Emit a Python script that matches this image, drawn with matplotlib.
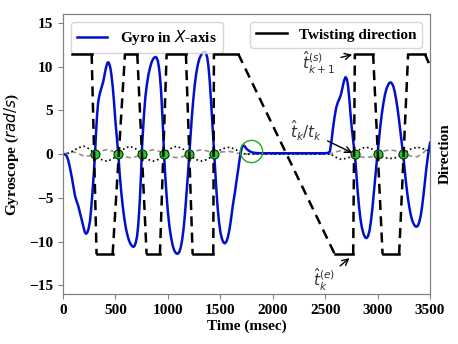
import numpy as np
import matplotlib

matplotlib.use("Agg")
import matplotlib.pyplot as plt

plt.rcParams["font.family"] = "serif"
plt.rcParams["font.serif"] = ["Liberation Serif", "DejaVu Serif"]
plt.rcParams["font.size"] = 11
plt.rcParams["mathtext.fontset"] = "dejavusans"

"""
Data read off the reference picture
"""

# gyro in x-axis (rad/s), one list per lobe
gyro_t = [0, 20, 35, 50, 65, 83, 100, 115, 130, 145, 162, 178, 194, 207, 219, 230, 242, 257, 268, 280, 292, 305,
          315, 325, 335, 343, 355, 370, 384, 398, 410, 422, 432, 442, 452, 462, 474, 486, 498, 512, 527,
          540, 555, 570, 585, 600, 615, 630, 645, 658, 670, 682, 694, 706, 716, 726, 736, 745, 750,
          760, 772, 785, 800, 815, 830, 845, 860, 872, 883, 894, 905, 915, 925, 935, 945, 955, 963,
          975, 988, 1000, 1015, 1030, 1045, 1060, 1075, 1093, 1108, 1122, 1136, 1150, 1163, 1176, 1190, 1204,
          1215, 1228, 1242, 1256, 1270, 1285, 1300, 1315, 1330, 1342, 1353, 1365, 1376, 1387, 1398, 1409, 1420, 1431, 1442,
          1452, 1463, 1475, 1488, 1502, 1516, 1530, 1544, 1558, 1572, 1586, 1600, 1620, 1640, 1655, 1670, 1685,
          1700, 1712, 1722, 1735, 1750, 1770, 1800, 1840, 1900, 2100, 2300, 2500, 2530,
          2545, 2560, 2575, 2590, 2605, 2620, 2635, 2650, 2665, 2680, 2694, 2706, 2718, 2730, 2742, 2755, 2770, 2783,
          2795, 2808, 2822, 2836, 2850, 2865, 2880, 2894, 2908, 2922, 2936, 2950, 2963, 2976, 2988, 2999,
          3012, 3025, 3040, 3055, 3070, 3085, 3100, 3112, 3123, 3135, 3148, 3162, 3176, 3190, 3204, 3218, 3231, 3243,
          3256, 3270, 3285, 3300, 3315, 3330, 3345, 3358, 3370, 3383, 3396, 3410, 3424, 3438, 3452, 3466, 3480, 3490, 3500]
gyro_v = [0, -0.05, -0.2, -0.7, -1.5, -2.6, -3.8, -4.8, -5.4, -5.9, -6.7, -7.5, -8.3, -8.9, -9.1, -9.0, -8.6, -7.7, -6.3, -4.5, -2.5, 0,
          2.5, 4.5, 5.9, 6.5, 7.1, 7.7, 8.3, 9.2, 9.9, 10.4, 10.5, 10.3, 9.8, 9.0, 7.7, 6.0, 4.0, 2.0, 0,
          -2.2, -4.3, -6.0, -7.4, -8.5, -9.3, -9.9, -10.3, -10.5, -10.6, -10.5, -10.1, -9.4, -8.3, -6.6, -4.4, -2.0, 0,
          2.2, 4.5, 6.5, 8.0, 9.1, 9.9, 10.5, 10.9, 11.05, 11.1, 11.0, 10.6, 9.9, 8.8, 7.2, 5.0, 2.5, 0,
          -2.5, -4.8, -6.6, -8.3, -9.5, -10.4, -11.0, -11.3, -11.4, -11.2, -10.7, -9.8, -8.5, -6.8, -4.8, -2.5, 0,
          2.0, 4.2, 6.2, 7.9, 9.2, 10.2, 10.9, 11.3, 11.6, 11.7, 11.7, 11.5, 11.0, 10.0, 8.5, 6.5, 4.3, 2.0, 0,
          -2.0, -4.2, -6.2, -7.8, -9.0, -9.7, -10.1, -10.2, -10.0, -9.5, -8.7, -7.6, -5.8, -4.3, -3.0, -1.8, -0.5,
          0.5, 0.95, 1.0, 0.85, 0.6, 0.4, 0.2, 0.12, 0.1, 0.1, 0.1, 0.1, 0.15,
          0.3, 1.5, 3.0, 4.3, 5.3, 5.9, 6.3, 6.8, 7.6, 8.4, 8.8, 8.6, 7.8, 6.3, 4.5, 2.8, 1.2, 0,
          -2.0, -4.0, -5.9, -7.4, -8.4, -9.1, -9.5, -9.6, -9.4, -8.8, -7.7, -6.2, -4.5, -2.8, -1.3, 0,
          1.6, 3.1, 4.6, 5.8, 6.8, 7.5, 7.9, 8.15, 8.2, 8.1, 7.8, 7.2, 6.3, 5.2, 3.9, 2.5, 1.2, 0,
          -1.6, -3.2, -4.7, -5.9, -6.9, -7.6, -8.0, -8.25, -8.3, -8.2, -7.8, -7.1, -6.0, -4.6, -3.0, -1.5, -0.2, 0.6, 1.3]

# small reference curves near zero
ref_t = [0, 50, 100, 150, 200, 250, 305, 360, 416, 470, 527, 582, 638, 694, 750,
         805, 860, 912, 963, 1020, 1080, 1142, 1204, 1262, 1320, 1380, 1442,
         1515, 1590, 1650, 1700, 1750, 2550, 2600, 2650, 2715, 2783, 2836, 2890, 2945, 2999,
         3060, 3120, 3180, 3243, 3310, 3380, 3440, 3500]
dot_v = [0, 0.1, 0.4, 0.75, 0.9, 0.6, 0, -0.6, -0.8, -0.6, 0, 0.6, 0.9, 0.6, 0,
         -0.6, -0.8, -0.6, 0, 0.6, 0.9, 0.6, 0, -0.6, -0.8, -0.6, 0,
         0.6, 0.8, 0.5, 0.1, 0, 0, -0.35, -0.6, -0.45, 0, 0.6, 0.8, 0.6, 0,
         -0.4, -0.5, -0.4, 0, 0.55, 0.8, 0.6, 0.3]
dash_v = [0, 0.15, 0.25, 0.05, -0.25, -0.2, 0, 0.35, 0.5, 0.35, 0, -0.3, -0.4, -0.3, 0,
          0.35, 0.5, 0.35, 0, -0.3, -0.4, -0.3, 0, 0.35, 0.5, 0.35, 0,
          0.25, 0.3, 0.15, 0, 0, 0, 0.25, 0.4, 0.3, 0, -0.3, -0.4, -0.3, 0,
          0.35, 0.5, 0.35, 0, -0.2, -0.3, 0.2, 1.0]

# zero crossings (t_k)
cross_t = [305, 527, 750, 963, 1204, 1442, 2783, 2999, 3243]
cross_v = [0, 0, 0, 0, 0, 0, 0, 0, 0]

# highlighted bump
bump_t = [1790]
bump_v = [0.3]

# twisting direction (+1 / -1)
dir_t = [82, 273, 320, 473, 591, 708, 797, 924, 988, 1172, 1236, 1433, 1439, 1671,
         2592, 2767, 2783, 2957, 3047, 3205, 3291, 3450, 3500]
dir_v = [1, 1, -1, -1, 1, 1, -1, -1, 1, 1, -1, -1, 1, 1,
         -1, -1, 1, 1, -1, -1, 1, 1, 0.88]

fig = plt.figure(figsize=(4.58, 3.44), dpi=100)
ax = fig.add_axes([0.1376, 0.145, 0.8014, 0.814])
ax2 = ax.twinx()

ax.plot(ref_t, dash_v, "--", color="#909090", lw=1.2, dashes=(3, 2))
ax.plot(ref_t, dot_v, ":", color="black", lw=1.2)
ax.plot(gyro_t, gyro_v, color="#0010cc", lw=1.8, label="Gyro in $X$-axis")
ax.plot(cross_t, cross_v, "o", ms=6.5, mfc="#22cc22", mec="#0a300a", mew=0.8, zorder=5)
ax.plot(bump_t, bump_v, "o", ms=16, mfc="none", mec="#22aa22", mew=1.0)

# hold parts solid, transitions dashed
for i in range(len(dir_t) - 1):
    if dir_v[i] == dir_v[i + 1]:
        ax2.plot(dir_t[i:i + 2], dir_v[i:i + 2], "-", color="black", lw=1.8)
    else:
        ax2.plot(dir_t[i:i + 2], dir_v[i:i + 2], "--", color="black", lw=1.8, dashes=(4, 2.5))
ax2.plot([], [], "-", color="black", lw=1.8, label="Twisting direction")

ax.set_xlim(0, 3500)
ax.set_ylim(-16, 16)
ax2.set_ylim(-16 / 11.45, 16 / 11.45)
ax.set_xticks(np.arange(0, 3501, 500))
ax.set_yticks(np.arange(-15, 16, 5))
ax2.set_yticks([])
for lbl in ax.get_xticklabels() + ax.get_yticklabels():
    lbl.set_fontweight("bold")

for a in (ax, ax2):
    for s in a.spines.values():
        s.set_color("#808080")
ax.tick_params(color="#808080")

ax.set_xlabel("Time (msec)", fontweight="bold", labelpad=2)
ax.set_ylabel("Gyroscope ($rad/s$)", fontweight="bold", labelpad=6)
ax2.set_ylabel("Direction", fontweight="bold", labelpad=6)

ax.legend(loc="upper left", prop={"weight": "bold", "size": 11})
ax2.legend(loc="upper right", prop={"weight": "bold", "size": 11})

arr = dict(arrowstyle="->", color="black", lw=1.0)
ax2.annotate(r"$\hat{t}^{(s)}_{k+1}$", xy=(dir_t[16], dir_v[16]), xytext=(2440, 0.91),
             ha="center", va="center", fontsize=11, color="#333333", arrowprops=arr)
ax.annotate(r"$\hat{t}_k/t_k$", xy=(cross_t[6], cross_v[6]), xytext=(2318, 2.7),
            ha="center", va="center", fontsize=11, color="#333333", arrowprops=arr)
ax2.annotate(r"$\hat{t}^{(e)}_k$", xy=(dir_t[15] - 15, dir_v[15] - 0.02), xytext=(2490, -1.25),
             ha="center", va="center", fontsize=11, color="#333333", arrowprops=arr)

fig.savefig("out.png", dpi=100)
